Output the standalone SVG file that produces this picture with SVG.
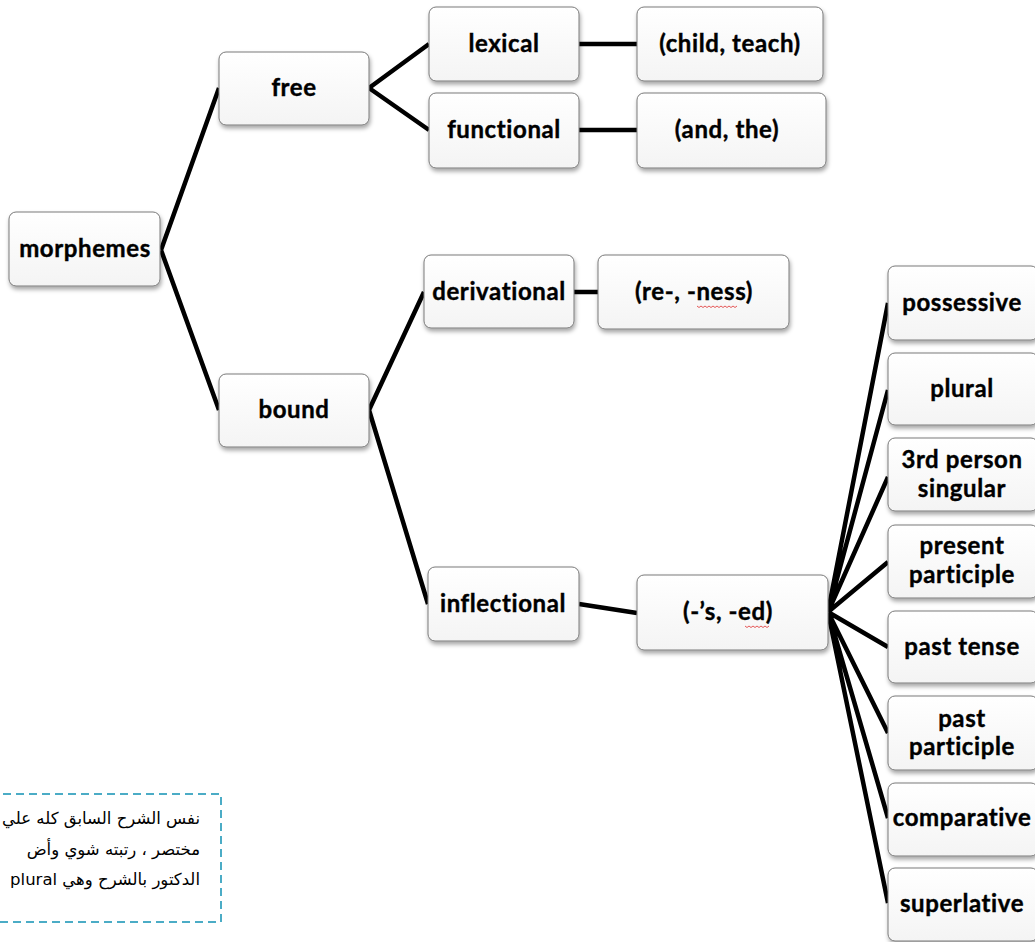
<svg xmlns="http://www.w3.org/2000/svg" width="1035" height="942" viewBox="0 0 1035 942">
<style>
.box{fill:url(#g);stroke:#7a7a7a;stroke-width:1;filter:url(#sh)}
.t{font-family:Lato,"Liberation Sans",sans-serif;font-weight:bold;font-size:24px;letter-spacing:0.6px;fill:#000;stroke:#000;stroke-width:0.4;text-anchor:middle}
.c{stroke:#000;stroke-width:4.5;fill:none;stroke-linecap:butt}
.ar{font-family:"DejaVu Sans","Noto Sans",sans-serif;font-size:16.5px;fill:#000}
.sq{stroke:#e03030;stroke-width:0.8;fill:none}
</style>
<defs>
<linearGradient id="g" x1="0" y1="0" x2="0" y2="1"><stop offset="0" stop-color="#ffffff"/><stop offset="1" stop-color="#f4f4f4"/></linearGradient>
<filter id="sh" x="-10%" y="-10%" width="125%" height="135%"><feDropShadow dx="1" dy="3" stdDeviation="2" flood-color="#000" flood-opacity="0.35"/></filter>
</defs>
<rect width="1035" height="942" fill="#fff"/>
<g id="connectors">
<path class="c" d="M161,250 L219,88 M161,250 L219,410"/>
<path class="c" d="M369,88 L429,44 M369,88 L429,130"/>
<path class="c" d="M579,44 L637,44 M579,130 L637,130"/>
<path class="c" d="M369,410 L424,292 M369,410 L428,604"/>
<path class="c" d="M574,292 L598,292"/>
<path class="c" d="M579,604 L637,613"/>
<path class="c" d="M828,612 L888,303 M828,612 L888,390 M828,612 L888,477 M828,612 L888,562 M828,612 L888,647 M828,612 L888,733 M828,612 L888,818 M828,612 L888,903"/>
</g>
<g id="morphemes"><rect class="box" x="9" y="212" width="151" height="74" rx="7"/><text class="t" x="85" y="257">morphemes</text></g>
<g id="free"><rect class="box" x="219" y="52" width="150" height="73" rx="7"/><text class="t" x="294" y="96">free</text></g>
<g id="lexical"><rect class="box" x="429" y="7" width="150" height="74" rx="7"/><text class="t" x="504" y="52">lexical</text></g>
<g id="functional"><rect class="box" x="429" y="93" width="150" height="75" rx="7"/><text class="t" x="504" y="138">functional</text></g>
<g id="child_teach"><rect class="box" x="637" y="7" width="186" height="74" rx="7"/><text class="t" x="730" y="52">(child, teach)</text></g>
<g id="and_the"><rect class="box" x="637" y="93" width="189" height="75" rx="7"/><text class="t" x="727" y="138">(and, the)</text></g>
<g id="bound"><rect class="box" x="219" y="374" width="150" height="73" rx="7"/><text class="t" x="294" y="418">bound</text></g>
<g id="derivational"><rect class="box" x="424" y="255" width="150" height="73" rx="7"/><text class="t" x="499" y="300">derivational</text></g>
<g id="re_ness"><rect class="box" x="598" y="255" width="191" height="74" rx="7"/><text class="t" x="694" y="300">(re-, -ness)</text><path class="sq" d="M697,306 l2,1.5 l2,-1.5 l2,1.5 l2,-1.5 l2,1.5 l2,-1.5 l2,1.5 l2,-1.5 l2,1.5 l2,-1.5 l2,1.5 l2,-1.5 l2,1.5 l2,-1.5 l2,1.5 l2,-1.5 l2,1.5 l2,-1.5 l2,1.5 l2,-1.5"/></g>
<g id="inflectional"><rect class="box" x="428" y="567" width="151" height="74" rx="7"/><text class="t" x="503" y="612">inflectional</text></g>
<g id="s_ed"><rect class="box" x="637" y="575" width="191" height="75" rx="7"/><text class="t" x="728" y="620">(-’s, -ed)</text><path class="sq" d="M745,626 l2,1.5 l2,-1.5 l2,1.5 l2,-1.5 l2,1.5 l2,-1.5 l2,1.5 l2,-1.5 l2,1.5 l2,-1.5 l2,1.5 l2,-1.5"/></g>
<g id="possessive"><rect class="box" x="888" y="266" width="150" height="74" rx="7"/><text class="t" x="962" y="311">possessive</text></g>
<g id="plural"><rect class="box" x="888" y="353" width="150" height="72" rx="7"/><text class="t" x="962" y="397">plural</text></g>
<g id="third_person"><rect class="box" x="888" y="438" width="150" height="73" rx="7"/><text class="t" x="962" y="468">3rd  person</text><text class="t" x="962" y="497">singular</text></g>
<g id="present_participle"><rect class="box" x="888" y="525" width="150" height="73" rx="7"/><text class="t" x="962" y="554">present</text><text class="t" x="962" y="583">participle</text></g>
<g id="past_tense"><rect class="box" x="888" y="611" width="150" height="72" rx="7"/><text class="t" x="962" y="655">past tense</text></g>
<g id="past_participle"><rect class="box" x="888" y="696" width="150" height="74" rx="7"/><text class="t" x="962" y="727">past</text><text class="t" x="962" y="755">participle</text></g>
<g id="comparative"><rect class="box" x="888" y="783" width="150" height="73" rx="7"/><text class="t" x="962" y="826">comparative</text></g>
<g id="superlative"><rect class="box" x="888" y="868" width="150" height="73" rx="7"/><text class="t" x="962" y="912">superlative</text></g>
<g id="note">
<rect x="-10" y="794" width="231" height="128" fill="none" stroke="#4bacc6" stroke-width="2" stroke-dasharray="8,5"/>
<text class="ar" x="200" y="824" direction="rtl" text-anchor="start">نفس الشرح السابق كله علي</text>
<text class="ar" x="200" y="855" direction="rtl" text-anchor="start">مختصر ، رتبته شوي وأض</text>
<text class="ar" x="200" y="885" direction="rtl" text-anchor="start">الدكتور بالشرح وهي plural</text>
</g>
</svg>
